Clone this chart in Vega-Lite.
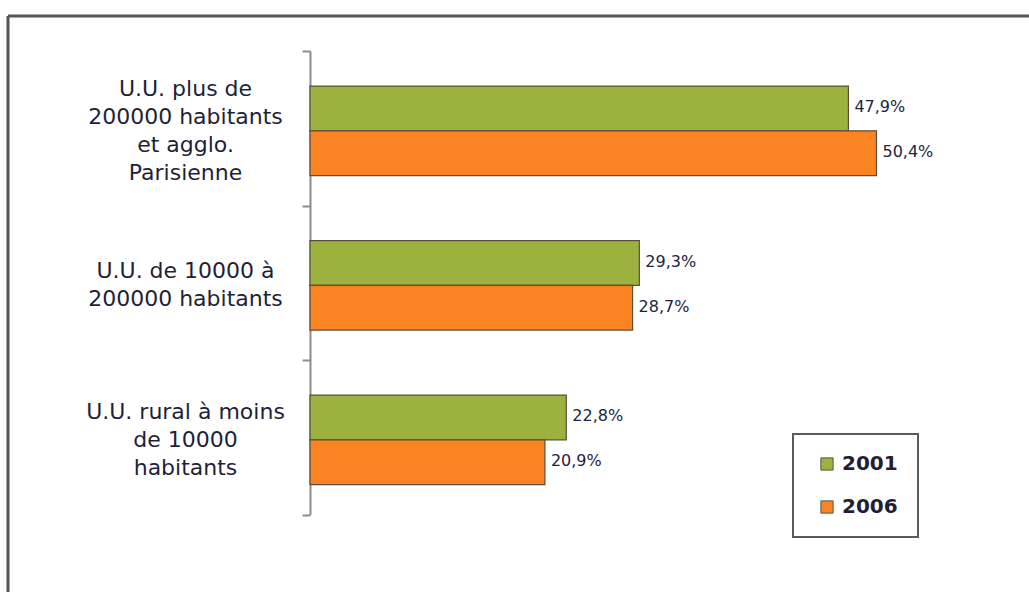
{
  "$schema": "https://vega.github.io/schema/vega-lite/v6.json",
  "width": 1021,
  "height": 576,
  "autosize": {"type": "none"},
  "padding": {"left": 8, "top": 16, "right": 0, "bottom": 0},
  "background": "white",
  "data": {
    "values": [
      {"cat": "U.U. plus de|200000 habitants|et agglo.|Parisienne", "year": "2001", "value": 0.479},
      {"cat": "U.U. plus de|200000 habitants|et agglo.|Parisienne", "year": "2006", "value": 0.504},
      {"cat": "U.U. de 10000 à|200000 habitants", "year": "2001", "value": 0.293},
      {"cat": "U.U. de 10000 à|200000 habitants", "year": "2006", "value": 0.287},
      {"cat": "U.U. rural à moins|de 10000|habitants", "year": "2001", "value": 0.228},
      {"cat": "U.U. rural à moins|de 10000|habitants", "year": "2006", "value": 0.209}
    ]
  },
  "encoding": {
    "y": {
      "field": "cat",
      "type": "nominal",
      "sort": null,
      "scale": {"range": [35, 498.5], "paddingInner": 0, "paddingOuter": 0},
      "axis": {
        "title": null,
        "orient": "left",
        "offset": -302,
        "grid": false,
        "domainColor": "#8c8c8c",
        "domainWidth": 2,
        "tickColor": "#8c8c8c",
        "tickWidth": 2,
        "tickSize": 8,
        "tickBand": "extent",
        "labelAlign": "center",
        "labelBaseline": "middle",
        "labelPadding": 117,
        "labelOffset": {"expr": "2 - 14 * (length(split(datum.label, '|')) - 1)"},
        "labelFont": "DejaVu Sans",
        "labelFontSize": 22,
        "labelColor": "#1f1f38",
        "labelLineHeight": 28,
        "labelLimit": 0,
        "labelOverlap": false,
        "labelBound": false,
        "labelExpr": "split(datum.label, '|')"
      }
    },
    "yOffset": {
      "field": "year",
      "type": "nominal",
      "sort": null,
      "scale": {"paddingInner": 0, "paddingOuter": 0.726, "align": 0.54}
    },
    "x": {
      "field": "value",
      "type": "quantitative",
      "scale": {"domain": [0, 0.6], "range": [302, 976.4], "nice": false, "zero": true},
      "axis": null
    }
  },
  "layer": [
    {
      "mark": {"type": "bar", "stroke": "#5a4d3c", "strokeWidth": 1.2},
      "encoding": {
        "color": {
          "field": "year",
          "type": "nominal",
          "sort": null,
          "scale": {"domain": ["2001", "2006"], "range": ["#9db23e", "#fa8421"]},
          "legend": {
            "title": null,
            "orient": "none",
            "legendX": 785,
            "legendY": 418,
            "direction": "vertical",
            "padding": 20,
            "symbolOffset": 4,
            "strokeColor": "#5a5a5a",
            "fillColor": "white",
            "symbolType": "square",
            "symbolSize": 150,
            "symbolStrokeColor": "#555555",
            "symbolStrokeWidth": 1,
            "labelFont": "DejaVu Sans",
            "labelFontSize": 20,
            "labelFontWeight": "bold",
            "labelColor": "#1f1f38",
            "labelOffset": 5,
            "rowPadding": 23
          }
        }
      }
    },
    {
      "mark": {
        "type": "text",
        "align": "left",
        "baseline": "middle",
        "dx": 6,
        "dy": -1,
        "font": "DejaVu Sans",
        "fontSize": 16,
        "fill": "#23233d"
      },
      "encoding": {
        "text": {"field": "value", "type": "quantitative", "format": ".1%"}
      }
    }
  ],
  "config": {
    "view": {"stroke": "#555555", "strokeWidth": 3, "strokeDash": [1021, 1597, 576, 0]},
    "legend": {"strokeWidth": 2},
    "locale": {
      "number": {
        "decimal": ",",
        "thousands": " ",
        "grouping": [3],
        "currency": ["", " €"],
        "percent": "%"
      }
    }
  }
}
